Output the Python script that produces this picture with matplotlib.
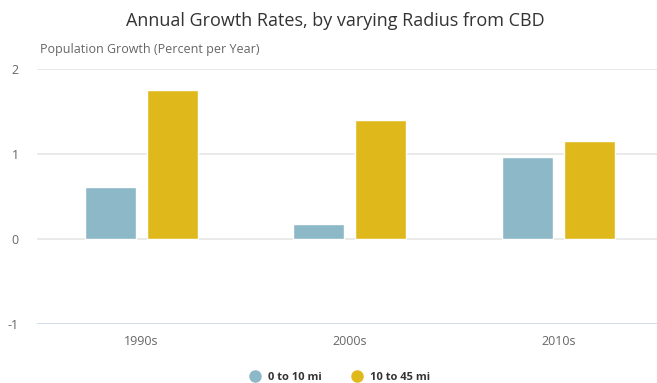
import matplotlib
matplotlib.use("Agg")
import matplotlib.pyplot as plt
import numpy as np
from matplotlib.lines import Line2D

plt.rcParams['font.family'] = ['Open Sans', 'DejaVu Sans']

decades = ["1990s", "2000s", "2010s"]
inner = [0.61, 0.18, 0.96]   # 0 to 10 mi
outer = [1.75, 1.40, 1.15]   # 10 to 45 mi
series_names = ["0 to 10 mi", "10 to 45 mi"]
colors = ["#8db8c8", "#dfb91c"]

fig = plt.figure(figsize=(6.57, 3.83), dpi=100)
ax = fig.add_axes([37 / 657, 59 / 383, 625.5 / 657, 255 / 383])

x = np.arange(len(decades))
w = 0.245
ax.bar(x - 0.149, inner, w, color=colors[0], edgecolor="white", linewidth=1, zorder=3)
ax.bar(x + 0.149, outer, w, color=colors[1], edgecolor="white", linewidth=1, zorder=3)

ax.set_xlim(-0.5, 2.5)
ax.set_ylim(-1, 2)
ax.set_yticks([-1, 0, 1, 2])
ax.set_yticklabels(["-1", "0", "1", "2"])
ax.set_xticks(x)
ax.set_xticklabels(decades)

for v in [0, 1, 2]:
    ax.axhline(v, color="#e6e6e6", linewidth=1.2, zorder=1)
ax.axhline(-1, color="#ccd6eb", linewidth=1.2, zorder=1)

for s in ax.spines.values():
    s.set_visible(False)
ax.tick_params(axis="both", length=0, colors="#666666", labelsize=9)
ax.tick_params(axis="y", pad=13)
ax.tick_params(axis="x", pad=8)
for lab in ax.get_yticklabels():
    lab.set_horizontalalignment("right")

fig.text(335 / 657, 0.945, "Annual Growth Rates, by varying Radius from CBD",
         ha="center", va="center", fontsize=13, color="#333333")
fig.text(40 / 657, 1 - 50 / 383, "Population Growth (Percent per Year)",
         ha="left", va="center", fontsize=9, color="#666666")

handles = [Line2D([], [], marker="o", linestyle="", markersize=8,
                  markerfacecolor=c, markeredgecolor=c) for c in colors]
leg = fig.legend(handles, series_names, loc="center", bbox_to_anchor=(337 / 657, 1 - 377 / 383),
                 ncol=2, frameon=False, handletextpad=0.2, columnspacing=2.2,
                 prop={"weight": "bold", "size": 8})
for t in leg.get_texts():
    t.set_color("#333333")

fig.savefig("out.png", dpi=100)
